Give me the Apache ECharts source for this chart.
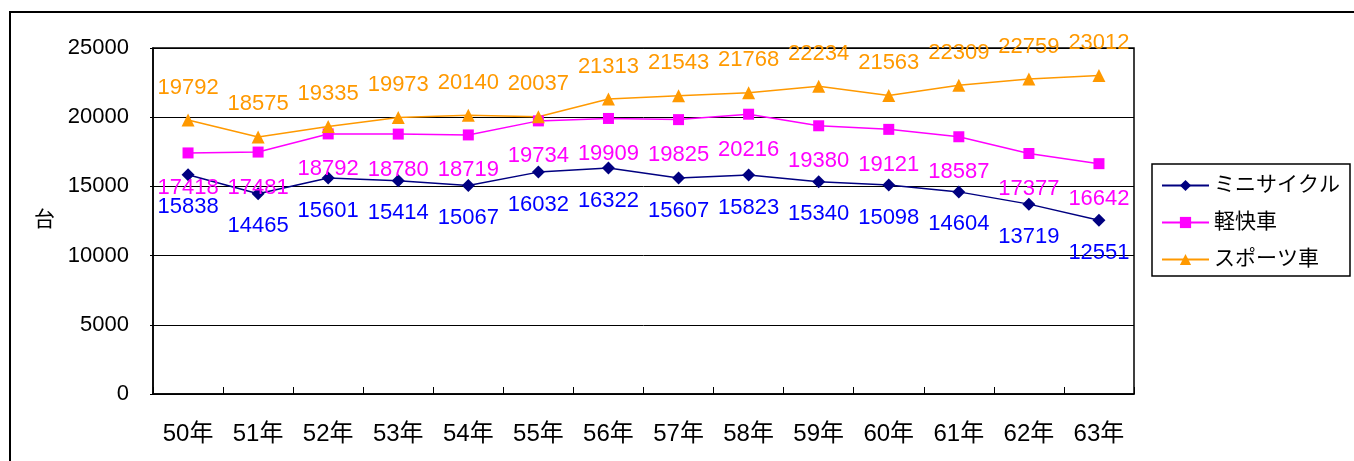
<!DOCTYPE html>
<html>
<head>
<meta charset="utf-8">
<script src="https://cdn.jsdelivr.net/npm/echarts@6/dist/echarts.min.js"></script>
<style>
html,body{margin:0;padding:0;background:#fff;}
#chart{width:1354px;height:461px;}
</style>
</head>
<body>
<div id="chart"></div>
<script>
const categories = ['50年','51年','52年','53年','54年','55年','56年','57年','58年','59年','60年','61年','62年','63年'];
const miniCycle = [15838,14465,15601,15414,15067,16032,16322,15607,15823,15340,15098,14604,13719,12551];
const keikaisha = [17418,17481,18792,18780,18719,19734,19909,19825,20216,19380,19121,18587,17377,16642];
const sportsSha = [19792,18575,19335,19973,20140,20037,21313,21543,21768,22234,21563,22309,22759,23012];
const seriesNames = ['ミニサイクル','軽快車','スポーツ車'];
const yTicks = [0,5000,10000,15000,20000,25000];

const FONT = "'Liberation Sans', 'Noto Sans CJK JP', sans-serif";
const chart = echarts.init(document.getElementById('chart'), null, {renderer:'canvas'});

function lineSeries(name, data, color, labelColor, symbol, size, pos, dist) {
  return {
    name: name,
    type: 'line',
    data: data,
    symbol: symbol,
    symbolSize: size,
    showAllSymbol: true,
    lineStyle: {color: color, width: 1.5},
    itemStyle: {color: color},
    label: {
      show: true, position: pos, distance: dist,
      color: labelColor, fontSize: 22, fontFamily: FONT
    },
    emphasis: {disabled: true},
    animation: false,
    z: 3
  };
}

chart.setOption({
  backgroundColor: '#fff',
  animation: false,
  graphic: [
    {type:'rect', shape:{x:10, y:12, width:1400, height:500}, style:{fill:'none', stroke:'#000', lineWidth:2}, z:0},
    {type:'text', left: 34, top: 210, style:{text:'台', fontSize:21, fontFamily:FONT, fill:'#000'}}
  ],
  grid: {left:153, top:48, right:220, bottom:67, show:true, borderColor:'#000', borderWidth:1.5, containLabel:false},
  legend: {
    orient:'vertical', left:1152, top:164,
    padding:[11,10,6,9], itemGap:16, itemWidth:47, itemHeight:14,
    borderColor:'#000', borderWidth:1.5, backgroundColor:'#fff',
    textStyle:{fontSize:21, fontFamily:FONT, color:'#000'},
    data: seriesNames
  },
  xAxis: {
    type:'category', data: categories, boundaryGap:true,
    axisLine:{lineStyle:{color:'#000', width:1.5}},
    axisTick:{show:true, inside:true, length:7, alignWithLabel:false, lineStyle:{color:'#000'}},
    axisLabel:{color:'#000', fontSize:24, fontFamily:FONT, margin:28, interval:0}
  },
  yAxis: {
    type:'value', min: yTicks[0], max: yTicks[yTicks.length-1], interval:5000,
    axisLine:{show:true, lineStyle:{color:'#000', width:1.5}},
    axisTick:{show:true, length:3, lineStyle:{color:'#000'}},
    axisLabel:{color:'#000', fontSize:22, fontFamily:FONT, margin:24, formatter: v => String(v)},
    splitLine:{show:true, lineStyle:{color:'#000', width:1}}
  },
  series: [
    lineSeries(seriesNames[0], miniCycle, '#000080', '#0000FF', 'diamond', 13, 'bottom', 15),
    lineSeries(seriesNames[1], keikaisha, '#FF00FF', '#FF00FF', 'rect', 11, 'bottom', 19),
    lineSeries(seriesNames[2], sportsSha, '#FF9900', '#FF9900', 'triangle', 13, 'top', 15)
  ]
});
</script>
</body>
</html>
